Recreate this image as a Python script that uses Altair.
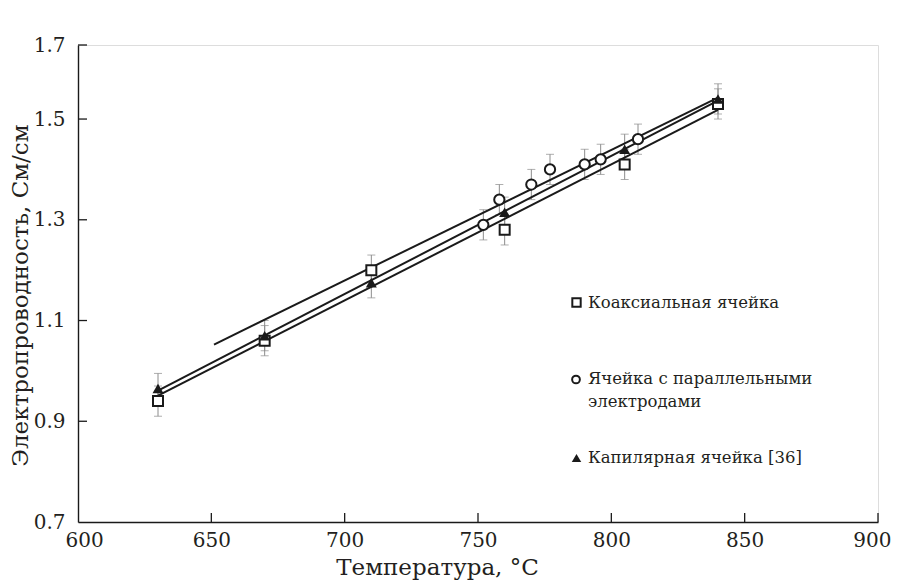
import altair as alt
import pandas as pd
import numpy as np

FONT = "DejaVu Serif"
INK = "#1a1a1a"
TXT = "#231f20"
ERRC = "#8c8c8c"

# ---- data ----
coax_t = [630, 670, 710, 760, 805, 840]
coax_s = [0.94, 1.06, 1.20, 1.28, 1.41, 1.53]
par_t = [752, 758, 770, 777, 790, 796, 810]
par_s = [1.29, 1.34, 1.37, 1.40, 1.41, 1.42, 1.46]
cap_t = [630, 670, 710, 760, 805, 840]
cap_s = [0.965, 1.07, 1.175, 1.315, 1.44, 1.54]
err = 0.03
fit_start = [630, 651, 630]
fit_end = [840, 840, 840]
series = ["coax", "par", "cap"]
legend_labels = ["Коаксиальная ячейка", "Ячейка с параллельными", "электродами", "Капилярная ячейка [36]"]

x_ticks = [600, 650, 700, 750, 800, 850, 900]
y_ticks = [0.7, 0.9, 1.1, 1.3, 1.5]
Y_TOP = 1.647  # top of drawn axis, labelled 1.7 in the original
x_title = "Температура, °C"
y_title = "Электропроводность, См/см"

W, H = 800, 477

# ---- tables ----
pts = pd.concat([
    pd.DataFrame({"T": coax_t, "S": coax_s, "series": "coax"}),
    pd.DataFrame({"T": par_t, "S": par_s, "series": "par"}),
    pd.DataFrame({"T": cap_t, "S": cap_s, "series": "cap"}),
], ignore_index=True)
pts["lo"] = pts["S"] - err
pts["hi"] = pts["S"] + err

fit_rows = []
for name, t0, t1 in zip(series, fit_start, fit_end):
    d = pts[pts.series == name]
    k, b = np.polyfit(d["T"], d["S"], 1)
    for t in (t0, t1):
        fit_rows.append({"T": t, "S": k * t + b, "series": name})
fits = pd.DataFrame(fit_rows)

xs = alt.Scale(domain=[600, 900], nice=False, zero=False)
ys = alt.Scale(domain=[0.7, Y_TOP], nice=False, zero=False)

xaxis = alt.Axis(values=x_ticks, ticks=False, grid=False, domainColor=INK, domainWidth=1.4,
                 labelFont=FONT, labelFontSize=20, labelColor=TXT, labelPadding=8,
                 labelFlush=True, labelFlushOffset=13,
                 title=x_title, titleFont=FONT, titleFontSize=23, titleFontWeight="normal",
                 titleColor=TXT, titleX=359, titleY=52, titleAlign="center",
                 titleBaseline="alphabetic")
yaxis = alt.Axis(values=y_ticks + [Y_TOP], ticks=False, grid=False, domainColor=INK, domainWidth=1.4,
                 labelFont=FONT, labelFontSize=20, labelColor=TXT, labelPadding=13,
                 labelFlush=False,
                 labelExpr="datum.value > 1.6 ? '1.7' : format(datum.value, '.1f')",
                 title=y_title, titleFont=FONT, titleFontSize=23, titleFontWeight="normal",
                 titleColor=TXT, titleX=-51, titleY=250, titleAngle=270, titleAlign="center",
                 titleBaseline="alphabetic")

base = alt.Chart(pts)

err_rule = base.mark_rule(color=ERRC, strokeWidth=1).encode(
    x=alt.X("T:Q", scale=xs, axis=xaxis), y=alt.Y("lo:Q", scale=ys, axis=yaxis), y2="hi:Q")
cap_lo = base.mark_tick(orient="horizontal", size=8, thickness=1, color=ERRC).encode(
    x=alt.X("T:Q", scale=xs), y=alt.Y("lo:Q", scale=ys))
cap_hi = base.mark_tick(orient="horizontal", size=8, thickness=1, color=ERRC).encode(
    x=alt.X("T:Q", scale=xs), y=alt.Y("hi:Q", scale=ys))

lines = alt.Chart(fits).mark_line(color=INK, strokeWidth=2).encode(
    x=alt.X("T:Q", scale=xs), y=alt.Y("S:Q", scale=ys), detail="series:N")

sq = base.transform_filter("datum.series == 'coax'").mark_point(
    shape="square", size=100, fill="white", fillOpacity=1, stroke=INK, strokeWidth=2, opacity=1
).encode(x=alt.X("T:Q", scale=xs), y=alt.Y("S:Q", scale=ys))
ci = base.transform_filter("datum.series == 'par'").mark_point(
    shape="circle", size=105, fill="white", fillOpacity=1, stroke=INK, strokeWidth=2, opacity=1
).encode(x=alt.X("T:Q", scale=xs), y=alt.Y("S:Q", scale=ys))
tr = base.transform_filter("datum.series == 'cap'").mark_point(
    shape="triangle-up", size=120, filled=True, color=INK, opacity=1
).encode(x=alt.X("T:Q", scale=xs), y=alt.Y("S:Q", scale=ys))

# inward ticks
xt = alt.Chart(pd.DataFrame({"v": x_ticks[1:]})).mark_rule(color=INK, strokeWidth=1.3).encode(
    x=alt.X("v:Q", scale=xs), y=alt.value(H), y2=alt.value(H - 9))
yt = alt.Chart(pd.DataFrame({"v": y_ticks[1:] + [Y_TOP]})).mark_rule(color=INK, strokeWidth=1.3).encode(
    y=alt.Y("v:Q", scale=ys), x=alt.value(0), x2=alt.value(9))

# legend (drawn inside the plot)
one = alt.Chart(pd.DataFrame({"k": [0]}))
lg_sq = one.mark_point(shape="square", size=70, fill="white", fillOpacity=1, stroke=INK,
                       strokeWidth=2, opacity=1).encode(x=alt.value(498.5), y=alt.value(257.5))
lg_ci = one.mark_point(shape="circle", size=60, fill="white", fillOpacity=1, stroke=INK,
                       strokeWidth=2, opacity=1).encode(x=alt.value(498), y=alt.value(334.5))
lg_tr = one.mark_point(shape="triangle-up", size=90, filled=True, color=INK, opacity=1).encode(
    x=alt.value(498.5), y=alt.value(413))
lg_text = []
for lbl, yy in zip(legend_labels, [258, 334, 356.7, 413]):
    lg_text.append(one.mark_text(align="left", baseline="middle", font=FONT, fontSize=16.5,
                                 color=TXT).encode(x=alt.value(510), y=alt.value(yy),
                                                   text=alt.value(lbl)))

chart = alt.layer(err_rule, cap_lo, cap_hi, lines, sq, ci, tr, xt, yt,
                  lg_sq, lg_ci, lg_tr, *lg_text).properties(
    width=W, height=H,
    autosize=alt.AutoSizeParams(type="none"),
    padding={"left": 70, "top": 37, "right": 14, "bottom": 58},
).configure_view(stroke=None).configure(background="white")

chart.save("out.html", embed_options={"renderer": "svg", "actions": False})
